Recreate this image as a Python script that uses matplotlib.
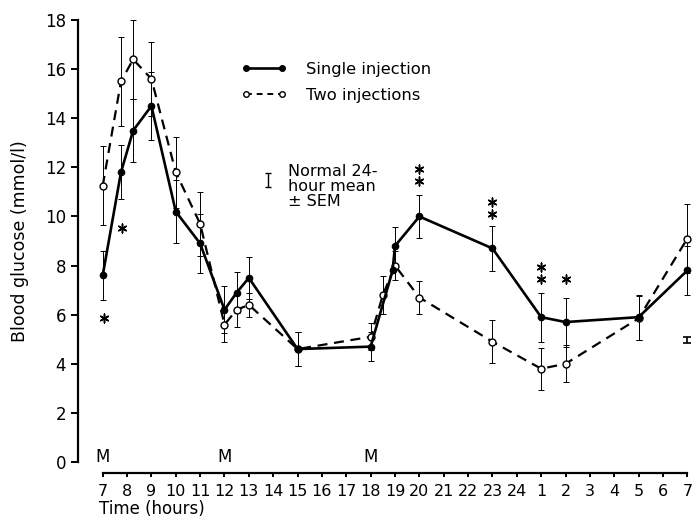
import numpy as np
import matplotlib
matplotlib.use('Agg')
import matplotlib.pyplot as plt
from matplotlib.lines import Line2D

# data (time in hours from 7:00, next-day hours shown as 25..31)
x_single = [7, 7.75, 8.25, 9, 10, 11, 12, 12.5, 13, 15, 18, 18.9, 19, 20, 23, 25, 26, 29, 31]
y_single = [7.6, 11.8, 13.5, 14.5, 10.2, 8.9, 6.2, 6.9, 7.5, 4.6, 4.7, 7.8, 8.8, 10.0, 8.7, 5.9, 5.7, 5.9, 7.8]
e_single = [1.0, 1.1, 1.3, 1.4, 1.3, 1.2, 0.95, 0.85, 0.85, 0.7, 0.6, np.nan, 0.77, 0.88, 0.92, 1.0, 1.0, 0.92, 1.0]

x_two = [7, 7.75, 8.25, 9, 10, 11, 12, 12.5, 13, 15, 18, 18.5, 19, 20, 23, 25, 26, 29, 31]
y_two = [11.25, 15.5, 16.4, 15.6, 11.8, 9.7, 5.6, 6.2, 6.4, 4.6, 5.1, 6.8, 8.0, 6.7, 4.9, 3.8, 4.0, 5.85, 9.1]
e_two = [1.6, 1.8, 1.6, 1.5, 1.45, 1.3, 0.7, 0.7, 0.5, 0.7, 0.55, 0.77, 0.6, 0.68, 0.88, 0.85, 0.75, 0.9, 1.4]

normal_mean = 4.97
normal_sem = 0.12

# significance asterisks (x, y)
star_x = [7.05, 7.78, 20, 20, 23, 23, 25, 25, 26]
star_y = [5.85, 9.55, 11.95, 11.45, 10.6, 10.1, 7.95, 7.45, 7.45]

meal_x = [7, 12, 18]

xticks = list(range(7, 32))
xticklabels = [str(h) for h in range(7, 25)] + [str(h) for h in range(1, 8)]

plt.rcParams['font.family'] = ['DejaVu Sans']

fig = plt.figure(figsize=(6.93, 5.22), dpi=100)
ax = fig.add_axes([0.1482, 0.1149, 0.8436, 0.8467])

# error bars
ax.errorbar(x_two, y_two, yerr=e_two, fmt='none', ecolor='black', elinewidth=0.7,
            capsize=2.5, capthick=0.7, clip_on=False, zorder=2)
ax.errorbar(x_single, y_single, yerr=e_single, fmt='none', ecolor='black', elinewidth=0.7,
            capsize=2.5, capthick=0.7, clip_on=False, zorder=2)

# lines
ax.plot(x_two, y_two, color='black', lw=1.6, ls=(0, (4.5, 3)), marker='o', ms=5,
        mfc='white', mec='black', mew=1.0, clip_on=False, zorder=3)
ax.plot(x_single, y_single, color='black', lw=1.9, ls='-', marker='o', ms=4.5,
        mfc='black', mec='black', clip_on=False, zorder=4)

# normal 24-hour mean marker at right end
ax.errorbar([31], [normal_mean], yerr=[normal_sem], fmt='none', ecolor='black',
            elinewidth=1.2, capsize=3, capthick=1.2, clip_on=False)

# asterisks
ax.scatter(star_x, star_y, marker=(6, 2, 0), s=40, color='black', linewidths=1.1,
           zorder=5, clip_on=False)

# meal markers
for mx in meal_x:
    ax.text(mx, 0.22, 'M', ha='center', va='center', fontsize=12)

# legend
handles = [
    Line2D([], [], color='black', lw=1.9, marker='o', ms=4, mfc='black'),
    Line2D([], [], color='black', lw=1.4, ls=(0, (3, 2.5)), marker='o', ms=4, mfc='white'),
]
ax.legend(handles, ['Single injection', 'Two injections'], numpoints=2, frameon=False,
          fontsize=11.8, handlelength=2.8, handletextpad=1.15, labelspacing=0.7,
          loc='upper left', bbox_to_anchor=(0.226, 0.921), borderaxespad=0)

# normal mean key
ax.errorbar([13.77], [11.48], yerr=[0.28], fmt='none', ecolor='black', elinewidth=1.0,
            capsize=2.5, capthick=1.0)
ax.text(14.6, 12.12, 'Normal 24-\nhour mean\n\u00b1 SEM', ha='left', va='top',
        fontsize=11.5, linespacing=0.98)

# axes styling
ax.set_xlim(7, 31)
ax.set_ylim(0, 18)
for s in ['top', 'right']:
    ax.spines[s].set_visible(False)
ax.spines['left'].set_position(('outward', 17.5))
ax.spines['bottom'].set_position(('outward', 8))
ax.spines['left'].set_bounds(0, 18)
ax.spines['bottom'].set_bounds(7, 31)
ax.spines['left'].set_linewidth(1.6)
ax.spines['bottom'].set_linewidth(1.6)

ax.set_yticks(range(0, 19, 2))
ax.set_xticks(xticks)
ax.set_xticklabels(xticklabels)
ax.tick_params(axis='y', direction='out', length=5, width=1.4, labelsize=12, pad=4)
ax.tick_params(axis='x', direction='out', length=3, width=1.4, labelsize=11.5, pad=5)

ax.set_ylabel('Blood glucose (mmol/l)', fontsize=12.5, labelpad=11)
ax.set_xlabel('Time (hours)', fontsize=12)
ax.xaxis.set_label_coords(-0.006, -0.085)
ax.xaxis.label.set_horizontalalignment('left')

fig.savefig('out.png', dpi=100)
